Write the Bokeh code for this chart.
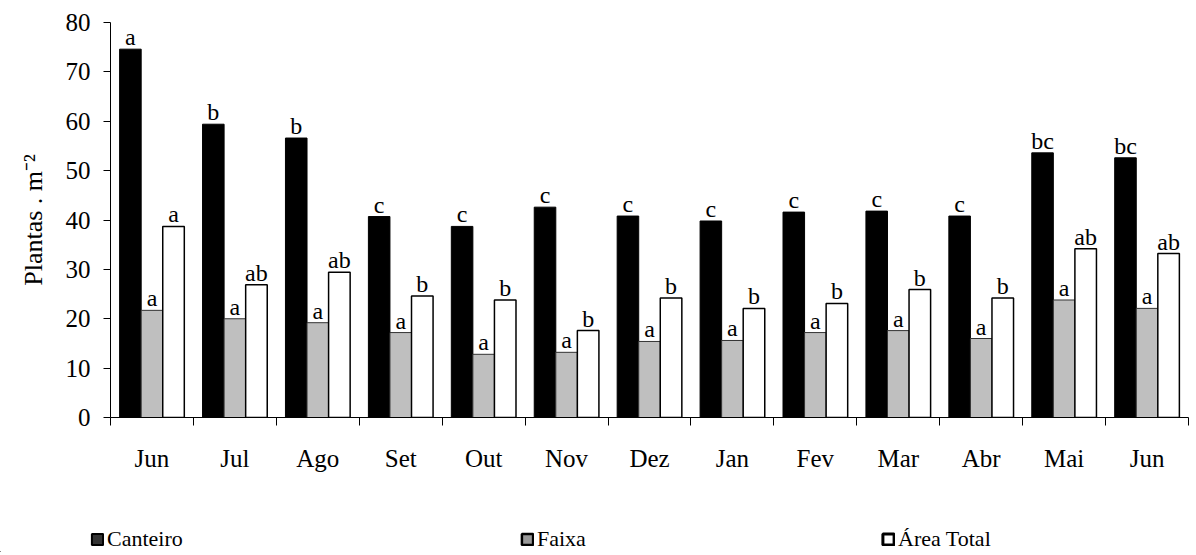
from bokeh.plotting import figure
from bokeh.layouts import column, row
from bokeh.models import ColumnDataSource, Range1d, FixedTicker, Legend, LegendItem
from bokeh.core.properties import value
from bokeh.transform import dodge
from bokeh.embed import file_html
from bokeh.resources import INLINE

# ---- data ----
months = ["Jun", "Jul", "Ago", "Set", "Out", "Nov", "Dez", "Jan", "Fev", "Mar", "Abr", "Mai", "Jun"]
canteiro = [74.6, 59.4, 56.6, 40.7, 38.7, 42.6, 40.8, 39.8, 41.6, 41.8, 40.8, 53.6, 52.6]
faixa = [21.7, 20.0, 19.2, 17.2, 12.8, 13.2, 15.4, 15.6, 17.2, 17.6, 16.0, 23.8, 22.1]
area_total = [38.7, 26.9, 29.4, 24.6, 23.8, 17.6, 24.2, 22.1, 23.1, 25.9, 24.2, 34.2, 33.2]
letras_canteiro = ["a", "b", "b", "c", "c", "c", "c", "c", "c", "c", "c", "bc", "bc"]
letras_faixa = ["a", "a", "a", "a", "a", "a", "a", "a", "a", "a", "a", "a", "a"]
letras_area = ["a", "ab", "ab", "b", "b", "b", "b", "b", "b", "b", "b", "ab", "ab"]
series_names = ["Canteiro", "Faixa", "\u00c1rea Total"]
y_ticks = [0, 10, 20, 30, 40, 50, 60, 70, 80]

FONT = "Liberation Serif"
pos = list(range(len(months)))
src = ColumnDataSource(dict(
    x=pos, canteiro=canteiro, faixa=faixa, area=area_total,
    lc=letras_canteiro, lf=letras_faixa, la=letras_area,
))

p = figure(width=1190, height=490, output_backend="svg", toolbar_location=None,
           x_range=Range1d(-0.5, len(months) - 0.5), y_range=Range1d(0, 80),
           min_border_left=110, min_border_right=2, min_border_top=22, min_border_bottom=73)
p.outline_line_color = None
p.grid.grid_line_color = None

styles = [
    dict(fill_color="black", line_color="black", line_width=1),
    dict(fill_color="#BFBFBF", line_color="#333333", line_width=1),
    dict(fill_color="white", line_color="black", line_width=1.5),
]

W = 0.26
for off, col, lab, st in [(-W, "canteiro", "lc", styles[0]), (0, "faixa", "lf", styles[1]),
                          (W, "area", "la", styles[2])]:
    p.vbar(x=dodge("x", off, range=p.x_range), top=col, width=W, source=src, **st)
    p.text(x=dodge("x", off, range=p.x_range), y=col, text=lab, source=src,
           text_align="center", text_baseline="bottom", y_offset=1,
           text_font=value(FONT), text_font_size="24px", text_color="black")

# x axis: labels at centres, tick marks at category boundaries
xa = p.xaxis[0]
xa.ticker = FixedTicker(ticks=pos, minor_ticks=[i - 0.5 for i in range(len(months) + 1)])
xa.major_label_overrides = {i: m for i, m in enumerate(months)}
xa.major_tick_out = 0
xa.major_tick_in = 0
xa.minor_tick_out = 8
xa.minor_tick_in = 0
xa.minor_tick_line_color = "black"
xa.axis_line_color = "black"
xa.major_label_standoff = 19
xa.major_label_text_font = FONT
xa.major_label_text_font_size = "25px"
xa.major_label_text_color = "black"

ya = p.yaxis[0]
ya.ticker = FixedTicker(ticks=y_ticks)
ya.major_tick_out = 7
ya.major_tick_in = 0
ya.minor_tick_line_color = None
ya.axis_line_color = "black"
ya.major_tick_line_color = "black"
ya.major_label_standoff = 13
ya.major_label_text_font = FONT
ya.major_label_text_font_size = "25px"
ya.major_label_text_color = "black"
ya.axis_label = "Plantas . m\u207b\u00b2"
ya.axis_label_text_font = FONT
ya.axis_label_text_font_size = "26px"
ya.axis_label_text_font_style = "normal"
ya.axis_label_text_color = "black"
ya.axis_label_standoff = 15

# ---- legend strip below the chart ----
lg = figure(width=1190, height=62, output_backend="svg", toolbar_location=None,
            x_range=Range1d(0, 1), y_range=Range1d(0, 1),
            min_border_left=0, min_border_right=0, min_border_top=0, min_border_bottom=0)
lg.axis.visible = False
lg.grid.visible = False
lg.outline_line_color = None

legend_styles = [
    dict(fill_color="#333333", line_color="black", line_width=2),
    dict(fill_color="#999999", line_color="black", line_width=2.5),
    dict(fill_color="white", line_color="black", line_width=3),
]
# legend-only renderers: one point placed outside the visible range so only the key shows
hidden = ColumnDataSource(dict(x=[-5.0], top=[0.0]))
for name, st, xloc in zip(series_names, legend_styles, [90, 520, 881]):
    r = lg.vbar(x="x", top="top", width=0.1, source=hidden, **st)
    leg = Legend(items=[LegendItem(label=name, renderers=[r])],
                 location=(xloc, 0), orientation="horizontal",
                 padding=0, margin=0, glyph_width=14, glyph_height=14, label_standoff=3,
                 label_text_font=FONT, label_text_font_size="22px", label_text_color="black",
                 border_line_color=None, background_fill_alpha=0)
    lg.add_layout(leg, "center")

open("out.html", "w").write(file_html(column(p, row(lg, spacing=0), spacing=0), INLINE))
